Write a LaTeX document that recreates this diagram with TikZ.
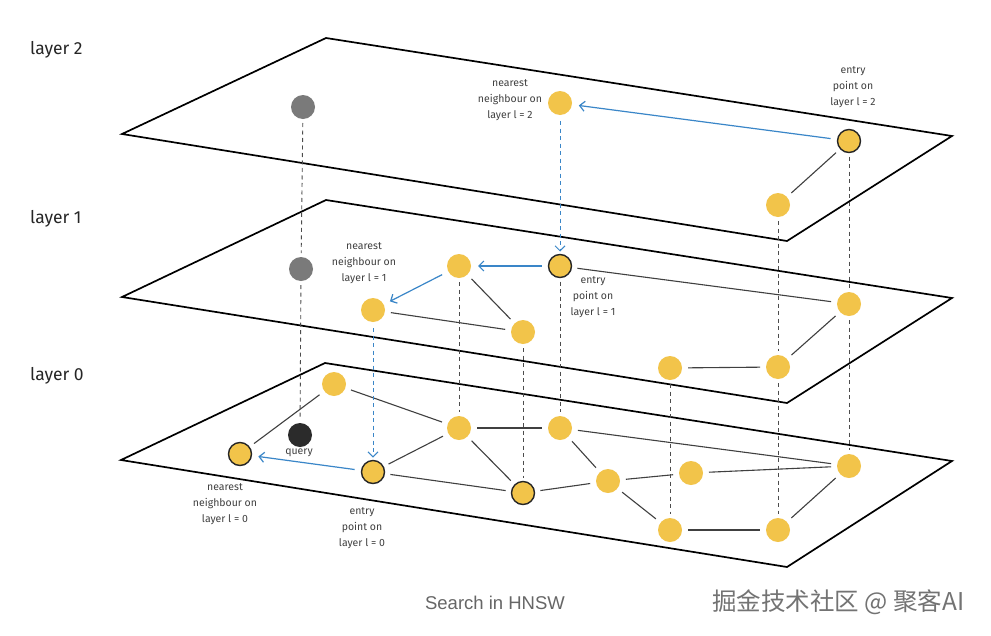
\documentclass[tikz,border=0pt]{standalone}
\usepackage{fontspec}
\setmainfont{Fira Sans}
\newfontfamily\capfont{Liberation Sans}
\newfontfamily\cjkfont{Noto Sans CJK SC}
\usetikzlibrary{arrows.meta}
\definecolor{nodeyellow}{HTML}{F2C44A}
\definecolor{hnswblue}{HTML}{3A86C8}
\definecolor{nodegray}{HTML}{7A7A7A}
\definecolor{querydark}{HTML}{2B2B2B}
\begin{document}
\begin{tikzpicture}[x=1pt,y=-1pt,
  plane/.style={draw=black, line width=1.7pt, line join=miter},
  ynode/.style={circle, fill=nodeyellow, minimum size=24pt, inner sep=0pt, outer sep=0pt},
  onode/.style={ynode, draw=black!85, line width=1.4pt, minimum size=23pt},
  gnode/.style={ynode, fill=nodegray},
  qnode/.style={ynode, fill=querydark},
  edge/.style={draw=black!75, line width=1.1pt, shorten >=6pt, shorten <=6pt},
  vdash/.style={draw=black!70, line width=0.9pt, dash pattern=on 4pt off 3.5pt, shorten >=4pt, shorten <=4pt},
  barrow/.style={draw=hnswblue, line width=1.2pt, -{Straight Barb[length=5pt,width=10pt]}, shorten >=7pt, shorten <=7pt},
  bdash/.style={barrow, line width=1pt, dash pattern=on 4pt off 3.5pt, shorten >=3pt, shorten <=6pt},
  lbl/.style={font=\fontsize{10.5}{16}\selectfont, text=black!75, align=center, inner sep=0pt},
  layerlbl/.style={font=\fontsize{17.5}{20}\selectfont, text=black!85, anchor=west, inner sep=0pt}
]
\useasboundingbox (0,0) rectangle (991,635);
\fill[white] (0,0) rectangle (991,635);

% planes
\draw[plane] (122,134) -- (326,38) -- (952,136) -- (787,241) -- cycle;
\draw[plane] (122,297) -- (326,200) -- (952,298) -- (787,403) -- cycle;
\draw[plane] (121,460) -- (325,363) -- (952,461) -- (787,567) -- cycle;

% layer labels
\node[layerlbl] (L2) at (30,50) {layer 2};
\node[layerlbl] (L1) at (30,219) {layer 1};
\node[layerlbl] (L0) at (30,376) {layer 0};

% layer 2 nodes
\node[gnode] (g2) at (303,107) {};
\node[ynode] (n2) at (560,103) {};
\node[onode] (e2) at (849,141) {};
\node[ynode] (b2) at (778,205) {};

% layer 1 nodes
\node[gnode] (g1) at (301,269) {};
\node[ynode] (a1) at (459,266) {};
\node[onode] (e1) at (560,266) {};
\node[ynode] (n1) at (373,310) {};
\node[ynode] (c1) at (523,332) {};
\node[ynode] (d1) at (849,304) {};
\node[ynode] (f1) at (670,368) {};
\node[ynode] (h1) at (778,367) {};

% layer 0 nodes
\node[qnode] (q) at (300,435) {};
\node[onode] (n0) at (240,454) {};
\node[ynode] (k0) at (334,384) {};
\node[onode] (e0) at (373,472) {};
\node[ynode] (a0) at (459,428) {};
\node[ynode] (m0) at (560,428) {};
\node[onode] (c0) at (523,493) {};
\node[ynode] (p0) at (608,481) {};
\node[ynode] (r0) at (691,473) {};
\node[ynode] (d0) at (849,466) {};
\node[ynode] (f0) at (670,530) {};
\node[ynode] (h0) at (778,530) {};

% edges layer 2
\draw[edge] (e2) -- (b2);
% edges layer 1
\draw[edge] (a1) -- (c1);
\draw[edge] (n1) -- (c1);
\draw[edge] (e1) -- (d1);
\draw[edge] (d1) -- (h1);
\draw[edge] (f1) -- (h1);
% edges layer 0
\draw[edge] (n0) -- (k0);
\draw[edge] (k0) -- (a0);
\draw[edge] (a0) -- (e0);
\draw[edge] (e0) -- (c0);
\draw[edge] (a0) -- (m0);
\draw[edge] (a0) -- (c0);
\draw[edge] (c0) -- (p0);
\draw[edge] (m0) -- (p0);
\draw[edge] (m0) -- (d0);
\draw[edge] (p0) -- (r0);
\draw[edge] (r0) -- (d0);
\draw[edge] (p0) -- (f0);
\draw[edge] (f0) -- (h0);
\draw[edge] (h0) -- (d0);

% vertical dashed links
\draw[vdash] (g2) -- (g1);
\draw[vdash] (g1) -- (q);
\draw[vdash] (a1) -- (a0);
\draw[vdash] (e1) -- (m0);
\draw[vdash] (c1) -- (c0);
\draw[vdash] (f1) -- (f0);
\draw[vdash] (h1) -- (h0);
\draw[vdash] (b2) -- (h1);
\draw[vdash] (e2) -- (d1);
\draw[vdash] (d1) -- (d0);

% search path
\draw[barrow] (e2) -- (n2);
\draw[bdash] (n2) -- (e1);
\draw[barrow] (e1) -- (a1);
\draw[barrow] (a1) -- (n1);
\draw[bdash] (n1) -- (e0);
\draw[barrow] (e0) -- (n0);

% labels
\node[lbl] (tn2) at (510,100) {nearest\\neighbour on\\layer l = 2};
\node[lbl] (te2) at (853,87) {entry\\point on\\layer l = 2};
\node[lbl] (tn1) at (364,263) {nearest\\neighbour on\\layer l = 1};
\node[lbl] (te1) at (593,297) {entry\\point on\\layer l = 1};
\node[lbl] (tq) at (299,453) {query};
\node[lbl] (tn0) at (225,504) {nearest\\neighbour on\\layer l = 0};
\node[lbl] (te0) at (362,528) {entry\\point on\\layer l = 0};

\node[font=\capfont\fontsize{18.5}{20}\selectfont, text=black!60] (cap) at (495,603) {Search in HNSW};
\node[font=\cjkfont\fontsize{24.5}{26}\selectfont, text=black!55, anchor=west, inner sep=0pt] (wm) at (712,602) {掘金技术社区 @ 聚客AI};
\end{tikzpicture}
\end{document}
